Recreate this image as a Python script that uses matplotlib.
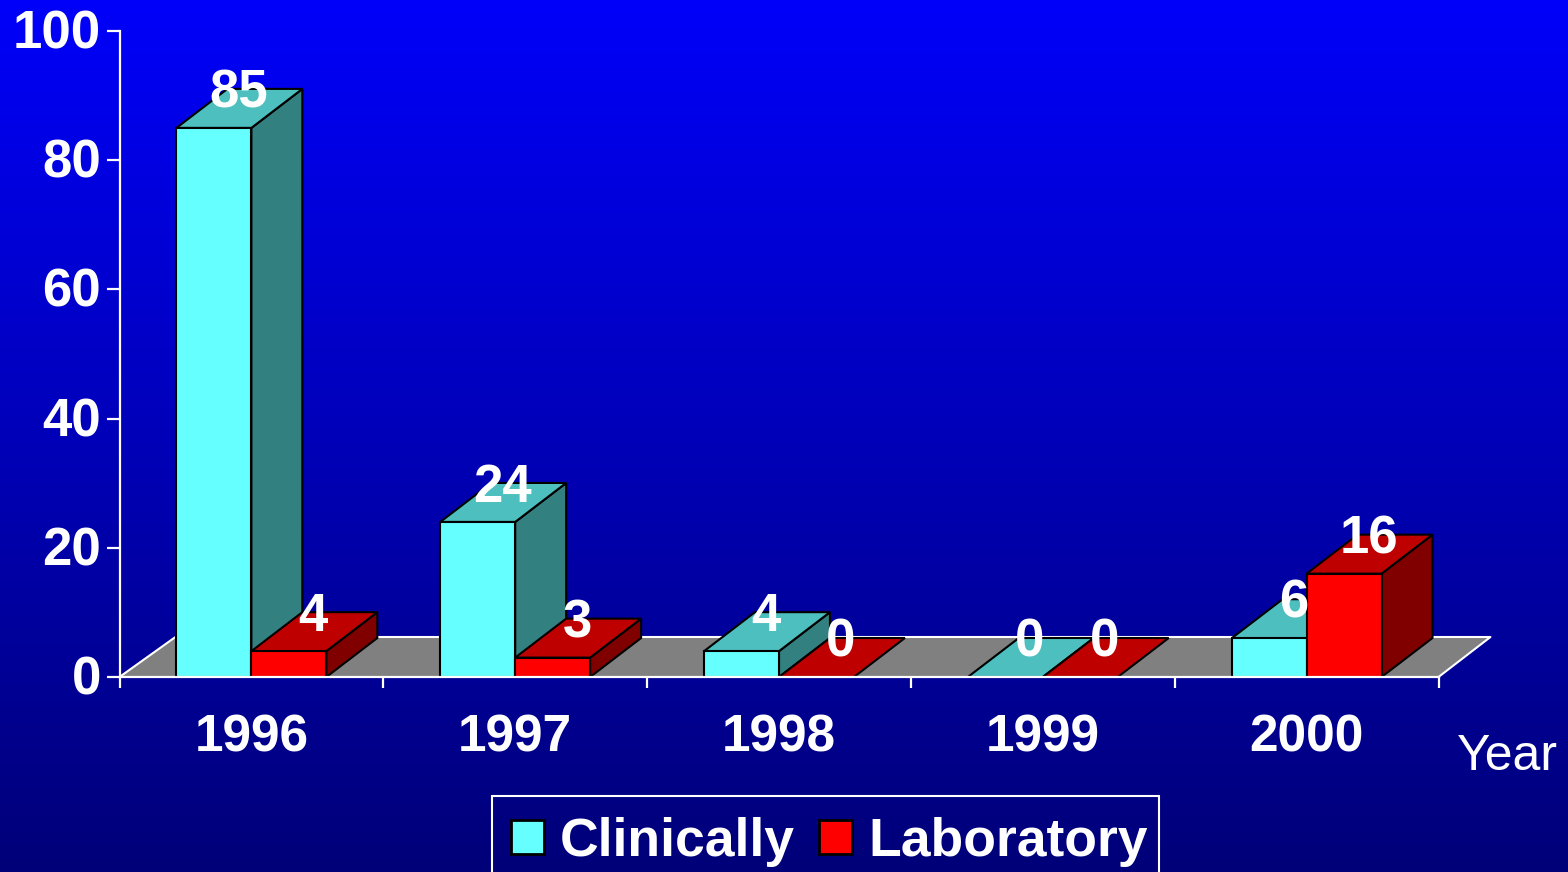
import numpy as np
import matplotlib
matplotlib.use("Agg")
import matplotlib.pyplot as plt
from matplotlib.patches import Polygon, Rectangle
from matplotlib.colors import LinearSegmentedColormap
from matplotlib.transforms import ScaledTranslation

years = ["1996", "1997", "1998", "1999", "2000"]
clinically = [85, 24, 4, 0, 6]
laboratory = [4, 3, 0, 0, 16]
yticks = [0, 20, 40, 60, 80, 100]

W, H = 1568, 872
plt.rcParams['font.family'] = ['Liberation Sans', 'DejaVu Sans']
fig = plt.figure(figsize=(W/100, H/100), dpi=100)

bg = fig.add_axes([0, 0, 1, 1], zorder=0)
bg.axis("off")
cmap = LinearSegmentedColormap.from_list("bg", ["#0000fa", "#000078"])
bg.imshow(np.linspace(0, 1, 256).reshape(-1, 1), aspect="auto", cmap=cmap, extent=[0, 1, 0, 1])

ax = fig.add_axes([119.5/W, 1-677/H, 1319/W, 646/H], zorder=1)
ax.patch.set_alpha(0)
ax.set_xlim(-0.5, 4.5)
ax.set_ylim(0, 100)
for s in ("top", "right"):
    ax.spines[s].set_visible(False)
for s in ("left", "bottom"):
    ax.spines[s].set_color("white")
    ax.spines[s].set_linewidth(1.6)
    ax.spines[s].set_zorder(20)

ax.set_yticks(yticks)
ax.set_yticklabels([str(v) for v in yticks], fontsize=38, fontweight="bold", color="white")
ax.set_xticks(np.arange(-0.5, 5, 1))
ax.set_xticklabels([])
ax.tick_params(axis="both", colors="white", width=1.6, direction="out")
ax.tick_params(axis="y", length=9.5, pad=3.7)
ax.tick_params(axis="x", length=8)
shift = ScaledTranslation(0, 2/72*0.72, fig.dpi_scale_trans)
for lab in ax.get_yticklabels():
    lab.set_transform(lab.get_transform() + shift)

BW = 75/264
DX, DY = 51/264, 39/6.46
edge = dict(edgecolor="black", linewidth=1.5, clip_on=False)

floor_dx, floor_dy = 56/264, 40/6.46
ax.add_patch(Polygon([(-0.5, 0), (-0.5+floor_dx, floor_dy), (4.5+52/264, floor_dy), (4.5, 0)],
                     facecolor="#808080", edgecolor="none", clip_on=False, zorder=2))
ax.plot([-0.5, -0.5+floor_dx, 4.5+52/264, 4.5], [0, floor_dy, floor_dy, 0],
        color="white", lw=1.5, clip_on=False, zorder=2.5)


def bar3d(x0, v, front, top, side, z):
    x1 = x0 + BW
    if v > 0:
        ax.add_patch(Polygon([(x1, 0), (x1+DX, DY), (x1+DX, v+DY), (x1, v)], facecolor=side, zorder=z, **edge))
        ax.add_patch(Rectangle((x0, 0), BW, v, facecolor=front, zorder=z+.1, **edge))
    ax.add_patch(Polygon([(x0, v), (x0+DX, v+DY), (x1+DX, v+DY), (x1, v)], facecolor=top, zorder=z+.05, **edge))


for i in range(len(years)):
    bar3d(i-BW, clinically[i], "#66ffff", "#4dbfbf", "#338080", 3+i)
    bar3d(i, laboratory[i], "#ff0000", "#bf0000", "#800000", 3.3+i)
    ax.text(i, -9.4, years[i], ha="center", va="center", fontsize=37, fontweight="bold", color="white")

for i in range(len(years)):
    ax.text(i-BW/2+DX/2-0.004, clinically[i]+DY/2+2.3, str(clinically[i]), ha="center", va="center",
            fontsize=38, fontweight="bold", color="white", zorder=15)
    ax.text(i+BW/2+DX/2-0.004, laboratory[i]+DY/2+2.3, str(laboratory[i]), ha="center", va="center",
            fontsize=38, fontweight="bold", color="white", zorder=15)

ax.text(4.5+0.26, -12.45, "Year", ha="center", va="center", fontsize=36, color="white", clip_on=False)

# legend: frame drawn separately so the box edge and its contents can sit independently
fig.add_artist(Rectangle((492/W, -0.02), 667/W, 1.02-796/H, transform=fig.transFigure,
                         facecolor="none", edgecolor="white", linewidth=1.5, zorder=29))
h = [Rectangle((0, 0), 1, 1, facecolor="#66ffff", edgecolor="black", linewidth=2),
     Rectangle((0, 0), 1, 1, facecolor="#ff0000", edgecolor="black", linewidth=2)]
leg = fig.legend(h, ["Clinically", "Laboratory"], ncol=2, loc="upper left",
                 bbox_to_anchor=(492/W, 1-798/H), frameon=False,
                 prop={"size": 38.5, "weight": "bold"}, labelcolor="white",
                 handlelength=0.62, handleheight=0.62, handletextpad=0.3, columnspacing=0.45,
                 borderpad=0.35, borderaxespad=0)
leg.set_zorder(30)

fig.savefig("out.png", dpi=100)
